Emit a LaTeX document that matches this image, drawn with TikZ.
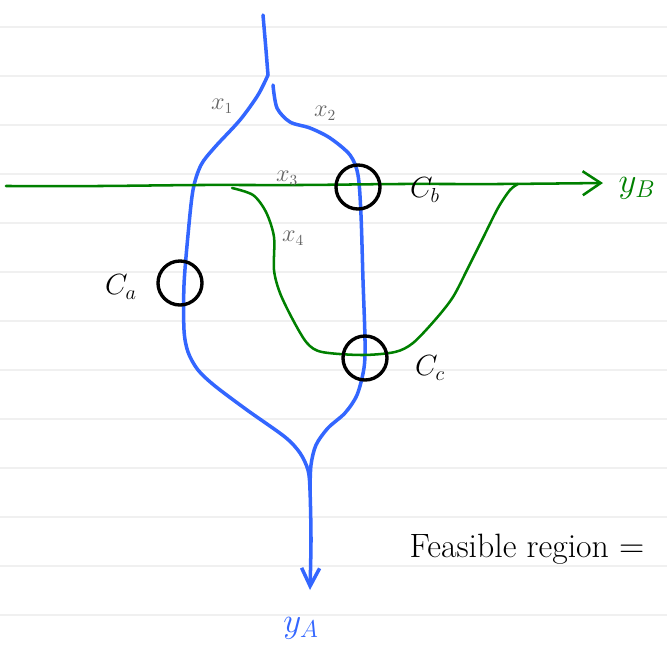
\documentclass[tikz,border=0pt]{standalone}
\usetikzlibrary{arrows.meta}
\definecolor{penblue}{RGB}{51,102,255}
\definecolor{pengreen}{RGB}{0,128,0}
\definecolor{pengray}{RGB}{100,100,100}
\definecolor{paperline}{RGB}{240,240,240}
\tikzset{
  bluepen/.style={penblue, line width=2.5pt, line cap=round, line join=round},
  greenpen/.style={pengreen, line width=1.8pt, line cap=round, line join=round},
  ring/.style={circle, draw=black, line width=2.4pt, minimum size=1.1cm, inner sep=0pt},
  flowlbl/.style={text=pengray, font=\fontsize{16}{19}\selectfont},
  conlbl/.style={text=black, font=\fontsize{22}{26}\selectfont},
}
\begin{document}
\begin{tikzpicture}[x=0.025cm, y=-0.025cm]
	\useasboundingbox (0,0) rectangle (667,653);
	
	% ruled paper
	\foreach \ly in {27,76,...,615}
		\draw[paperline, line width=1.5pt] (0,\ly) -- (667,\ly);
	
	% flow of A
	\draw[bluepen] (263,15) -- (266,50) -- (268,75);
	\draw[bluepen, -{Straight Barb[length=4.5mm, width=4.5mm, line width=2.5pt]}] plot[smooth, tension=0.5] coordinates {(268,75) (258,95) (240,120) (215,147) (201,165) (193,190) (188,235) (184,285) (184,330) (188,352) (198,370) (215,386) (247,410) (285,437) (300,453) (308,470) (310,490) (311,540) (310,590)};
	\draw[bluepen] plot[smooth, tension=0.5] coordinates {(273,85) (277,108) (290,122) (310,128) (330,138) (350,155) (358,175) (361,215) (363,280) (365,340) (364,368) (357,395) (345,413) (328,428) (316,445) (311,465) (310,490)};
	
	% flow of B
	\draw[greenpen, -{Straight Barb[length=4.5mm, width=6mm, line width=1.8pt]}] plot[smooth] coordinates {(6,186) (100,186) (200,185) (300,185) (400,184) (500,184) (603,183)};
	\draw[greenpen] plot[smooth, tension=0.5] coordinates {(232,188) (253,195) (266,212) (274,237) (274,270) (280,293) (293,320) (307,343) (322,352) (362,355) (395,352) (413,343) (435,320) (453,297) (468,268) (482,240) (498,208) (510,190) (518,184)};
	
	% constraints
	\node[ring] (ca) at (180,283) {};
	\node[ring] (cb) at (358,187) {};
	\node[ring] (cc) at (365,358) {};
	\node[conlbl] (ca lbl) at (121,287) {$C_a$};
	\node[conlbl] (cb lbl) at (425,190) {$C_b$};
	\node[conlbl] (cc lbl) at (430,368) {$C_c$};
	
	% flow labels
	\node[flowlbl] (x1) at (222,106) {$x_1$};
	\node[flowlbl] (x2) at (325,113) {$x_2$};
	\node[flowlbl] (x3) at (287,178) {$x_3$};
	\node[flowlbl] (x4) at (293,238) {$x_4$};
	\node[text=pengreen, font=\fontsize{24}{28}\selectfont] (yb) at (637,188) {$y_B$};
	\node[text=penblue, font=\fontsize{24}{28}\selectfont] (ya) at (301,628) {$y_A$};
	
	\node[font=\fontsize{24}{28}\selectfont] (feas) at (527,549) {Feasible region $=$};
\end{tikzpicture}
\end{document}
